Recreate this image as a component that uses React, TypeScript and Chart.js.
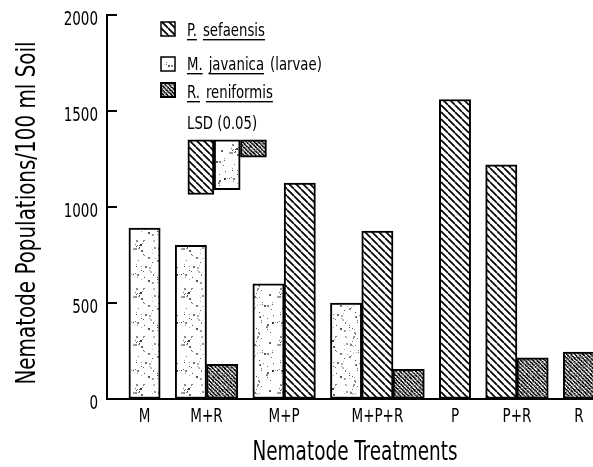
import React, { useEffect, useRef } from "react";
import { Chart, registerables } from "chart.js";

Chart.register(...registerables);

// ---- data ----
const treatments = ["M", "M+R", "M+P", "M+P+R", "P", "P+R", "R"];
const javanica: (number | null)[] = [890, 800, 600, 500, null, null, null];
const sefaensis: (number | null)[] = [null, null, 1125, 875, 1560, 1220, null];
const reniformis: (number | null)[] = [null, 180, null, 155, null, 215, 245];
const yTicks = [0, 500, 1000, 1500, 2000];
const lsdTop = 1350;
const lsdSefaensis = 285;
const lsdJavanica = 260;
const lsdReniformis = 90;
const seriesNames = ["P. sefaensis", "M. javanica (larvae)", "R. reniformis"];
const lsdLabel = "LSD (0.05)";
const yTitle = "Nematode Populations/100 ml Soil";
const xTitle = "Nematode Treatments";

// ---- layout (in bar-width units) ----
const OFFSET = 0.7;
const GAP = 0.48;
const X_MAX = 15.53;
const BAR_PX = 31.3;
const LSD_START = 2.58;
const LSD_W = 0.84;
const LSD_PX = 26;
const FONT = "'DejaVu Sans Condensed', 'Liberation Sans Narrow', sans-serif";

function computeLayout() {
  const series = [javanica, sefaensis, reniformis];
  const pos: { x: number; y: number }[][] = [[], [], []];
  const centers: number[] = [];
  let x = OFFSET;
  treatments.forEach((_, i) => {
    const start = x;
    series.forEach((s, k) => {
      const v = s[i];
      if (v != null) {
        pos[k].push({ x: x + 0.5, y: v });
        x += 1;
      }
    });
    centers.push((start + x) / 2);
    x += GAP;
  });
  return { pos, centers };
}

function lcg(seed: number) {
  let s = seed >>> 0;
  return () => {
    s = (s * 1664525 + 1013904223) >>> 0;
    return s / 4294967296;
  };
}

function makeHatch(ctx: CanvasRenderingContext2D) {
  const s = 7;
  const c = document.createElement("canvas");
  c.width = s;
  c.height = s;
  const g = c.getContext("2d")!;
  g.fillStyle = "#fff";
  g.fillRect(0, 0, s, s);
  g.strokeStyle = "#000";
  g.lineWidth = 1.7;
  g.beginPath();
  for (const o of [-s, 0, s]) {
    g.moveTo(o, 0);
    g.lineTo(o + s, s);
  }
  g.stroke();
  return ctx.createPattern(c, "repeat")!;
}

function makeStipple(ctx: CanvasRenderingContext2D) {
  const s = 48;
  const c = document.createElement("canvas");
  c.width = s;
  c.height = s;
  const g = c.getContext("2d")!;
  g.fillStyle = "#fff";
  g.fillRect(0, 0, s, s);
  const r = lcg(12345);
  for (let i = 0; i < 95; i++) {
    const x = Math.floor(r() * s);
    const y = Math.floor(r() * s);
    const v = Math.floor(40 + r() * 150);
    g.fillStyle = `rgb(${v},${v},${v})`;
    const sz = r() < 0.25 ? 2 : 1;
    g.fillRect(x, y, sz, sz);
  }
  return ctx.createPattern(c, "repeat")!;
}

function makeDense(ctx: CanvasRenderingContext2D) {
  const s = 32;
  const c = document.createElement("canvas");
  c.width = s;
  c.height = s;
  const g = c.getContext("2d")!;
  const img = g.createImageData(s, s);
  const r = lcg(777);
  for (let y = 0; y < s; y++) {
    for (let x = 0; x < s; x++) {
      const d = (((x - y) % 4) + 4) % 4;
      let v = d < 2 ? 45 : 185;
      v += (r() - 0.5) * 140;
      v = Math.max(0, Math.min(255, v));
      const i = (y * s + x) * 4;
      img.data[i] = v;
      img.data[i + 1] = v;
      img.data[i + 2] = v;
      img.data[i + 3] = 255;
    }
  }
  g.putImageData(img, 0, 0);
  return ctx.createPattern(c, "repeat")!;
}

function txt(
  c: CanvasRenderingContext2D,
  s: string,
  x: number,
  y: number,
  size: number,
  sx: number,
  align: CanvasTextAlign,
  rot = 0
) {
  c.save();
  c.translate(x, y);
  if (rot) c.rotate(rot);
  c.scale(sx, 1);
  c.font = `${size}px ${FONT}`;
  c.textAlign = align;
  c.textBaseline = "alphabetic";
  c.fillStyle = "#000";
  c.fillText(s, 0, 0);
  c.restore();
}

export default function App() {
  const ref = useRef<HTMLCanvasElement>(null);

  useEffect(() => {
    const canvas = ref.current!;
    const ctx = canvas.getContext("2d")!;
    const hatch = makeHatch(ctx);
    const stipple = makeStipple(ctx);
    const dense = makeDense(ctx);
    const { pos, centers } = computeLayout();

    const lsdVals = [lsdSefaensis, lsdJavanica, lsdReniformis];
    const lsdFills = [hatch, stipple, dense];

    const overlay = {
      id: "overlay",
      afterDraw(chart: any) {
        const c = chart.ctx as CanvasRenderingContext2D;
        const ys = chart.scales.y;
        const xs = chart.scales.x;
        const area = chart.chartArea;
        c.save();
        // inner tick marks on y axis
        c.strokeStyle = "#000";
        c.lineWidth = 2;
        yTicks.forEach((v) => {
          if (v === 0) return;
          const y = Math.round(ys.getPixelForValue(v));
          c.beginPath();
          c.moveTo(area.left, y);
          c.lineTo(area.left + 10, y);
          c.stroke();
        });
        // y tick labels
        yTicks.forEach((v) => {
          const y = ys.getPixelForValue(v);
          txt(c, String(v), area.left - 9, y + 10, 20, 0.75, "right");
        });
        // x tick labels
        treatments.forEach((t, i) => {
          const x = xs.getPixelForValue(centers[i]);
          txt(c, t, x, area.bottom + 23, 20, 0.75, "center");
        });
        // axis titles
        txt(c, xTitle, (area.left + area.right) / 2 + 5, 460, 27, 0.76, "center");
        txt(c, yTitle, 35, (area.top + area.bottom) / 2 + 6, 27, 0.82, "center", -Math.PI / 2);
        // legend
        const fills = [hatch, stipple, dense];
        const sqTop = [22, 57, 83];
        const base = [36, 70, 98];
        seriesNames.forEach((name, i) => {
          c.fillStyle = fills[i] as any;
          c.fillRect(161, sqTop[i], 14, 14);
          c.lineWidth = i === 2 ? 2 : 1.5;
          c.strokeStyle = "#000";
          c.strokeRect(161, sqTop[i], 14, 14);
          let x = 187;
          c.font = `18px ${FONT}`;
          name.split(" ").forEach((w) => {
            txt(c, w, x, base[i], 18, 0.82, "left");
            c.font = `18px ${FONT}`;
            const wd = c.measureText(w).width * 0.82;
            if (!w.startsWith("(")) {
              c.fillStyle = "#000";
              c.fillRect(x, base[i] + 3, wd, 1.4);
            }
            x += wd + 6;
          });
        });
        txt(c, lsdLabel, 187, 129, 18, 0.82, "left");
        c.restore();
      },
    };

    const common = {
      borderColor: "#000",
      borderWidth: 2,
      borderSkipped: false,
      grouped: false,
    };

    const chart = new Chart(canvas, {
      type: "bar",
      data: {
        datasets: [
          { ...common, label: seriesNames[1], data: pos[0], backgroundColor: stipple, barThickness: BAR_PX } as any,
          { ...common, label: seriesNames[0], data: pos[1], backgroundColor: hatch, barThickness: BAR_PX } as any,
          { ...common, label: seriesNames[2], data: pos[2], backgroundColor: dense, barThickness: BAR_PX } as any,
          {
            ...common,
            label: lsdLabel,
            data: lsdVals.map((v, i) => ({ x: LSD_START + LSD_W * (i + 0.5), y: [lsdTop - v, lsdTop] })),
            backgroundColor: lsdFills,
            barThickness: LSD_PX,
          } as any,
        ],
      },
      options: {
        responsive: false,
        animation: false,
        devicePixelRatio: 1,
        events: [],
        layout: { padding: { top: 15, left: 0, right: 0, bottom: 0 } },
        plugins: {
          legend: { display: false },
          tooltip: { enabled: false },
        },
        scales: {
          x: {
            type: "linear",
            min: 0,
            max: X_MAX,
            offset: false,
            bounds: "data",
            afterBuildTicks: (a: any) => {
              a.ticks = centers.map((v) => ({ value: v }));
            },
            afterFit: (s: any) => {
              s.height = 68;
            },
            grid: { drawOnChartArea: false, drawTicks: false },
            border: { display: true, color: "#000", width: 2 },
            ticks: { display: false },
            title: { display: false, text: xTitle },
          },
          y: {
            type: "linear",
            min: 0,
            max: 2000,
            afterBuildTicks: (a: any) => {
              a.ticks = yTicks.map((v) => ({ value: v }));
            },
            afterFit: (s: any) => {
              s.width = 107;
            },
            grid: { drawOnChartArea: false, drawTicks: false },
            border: { display: true, color: "#000", width: 2 },
            ticks: { display: false },
            title: { display: false, text: yTitle },
          },
        },
      } as any,
      plugins: [overlay],
    });
    return () => chart.destroy();
  }, []);

  return (
    <div style={{ position: "fixed", left: 0, top: 0, width: 593, height: 467, background: "#fff" }}>
      <canvas ref={ref} width={593} height={467} style={{ display: "block", width: 593, height: 467 }} />
    </div>
  );
}
